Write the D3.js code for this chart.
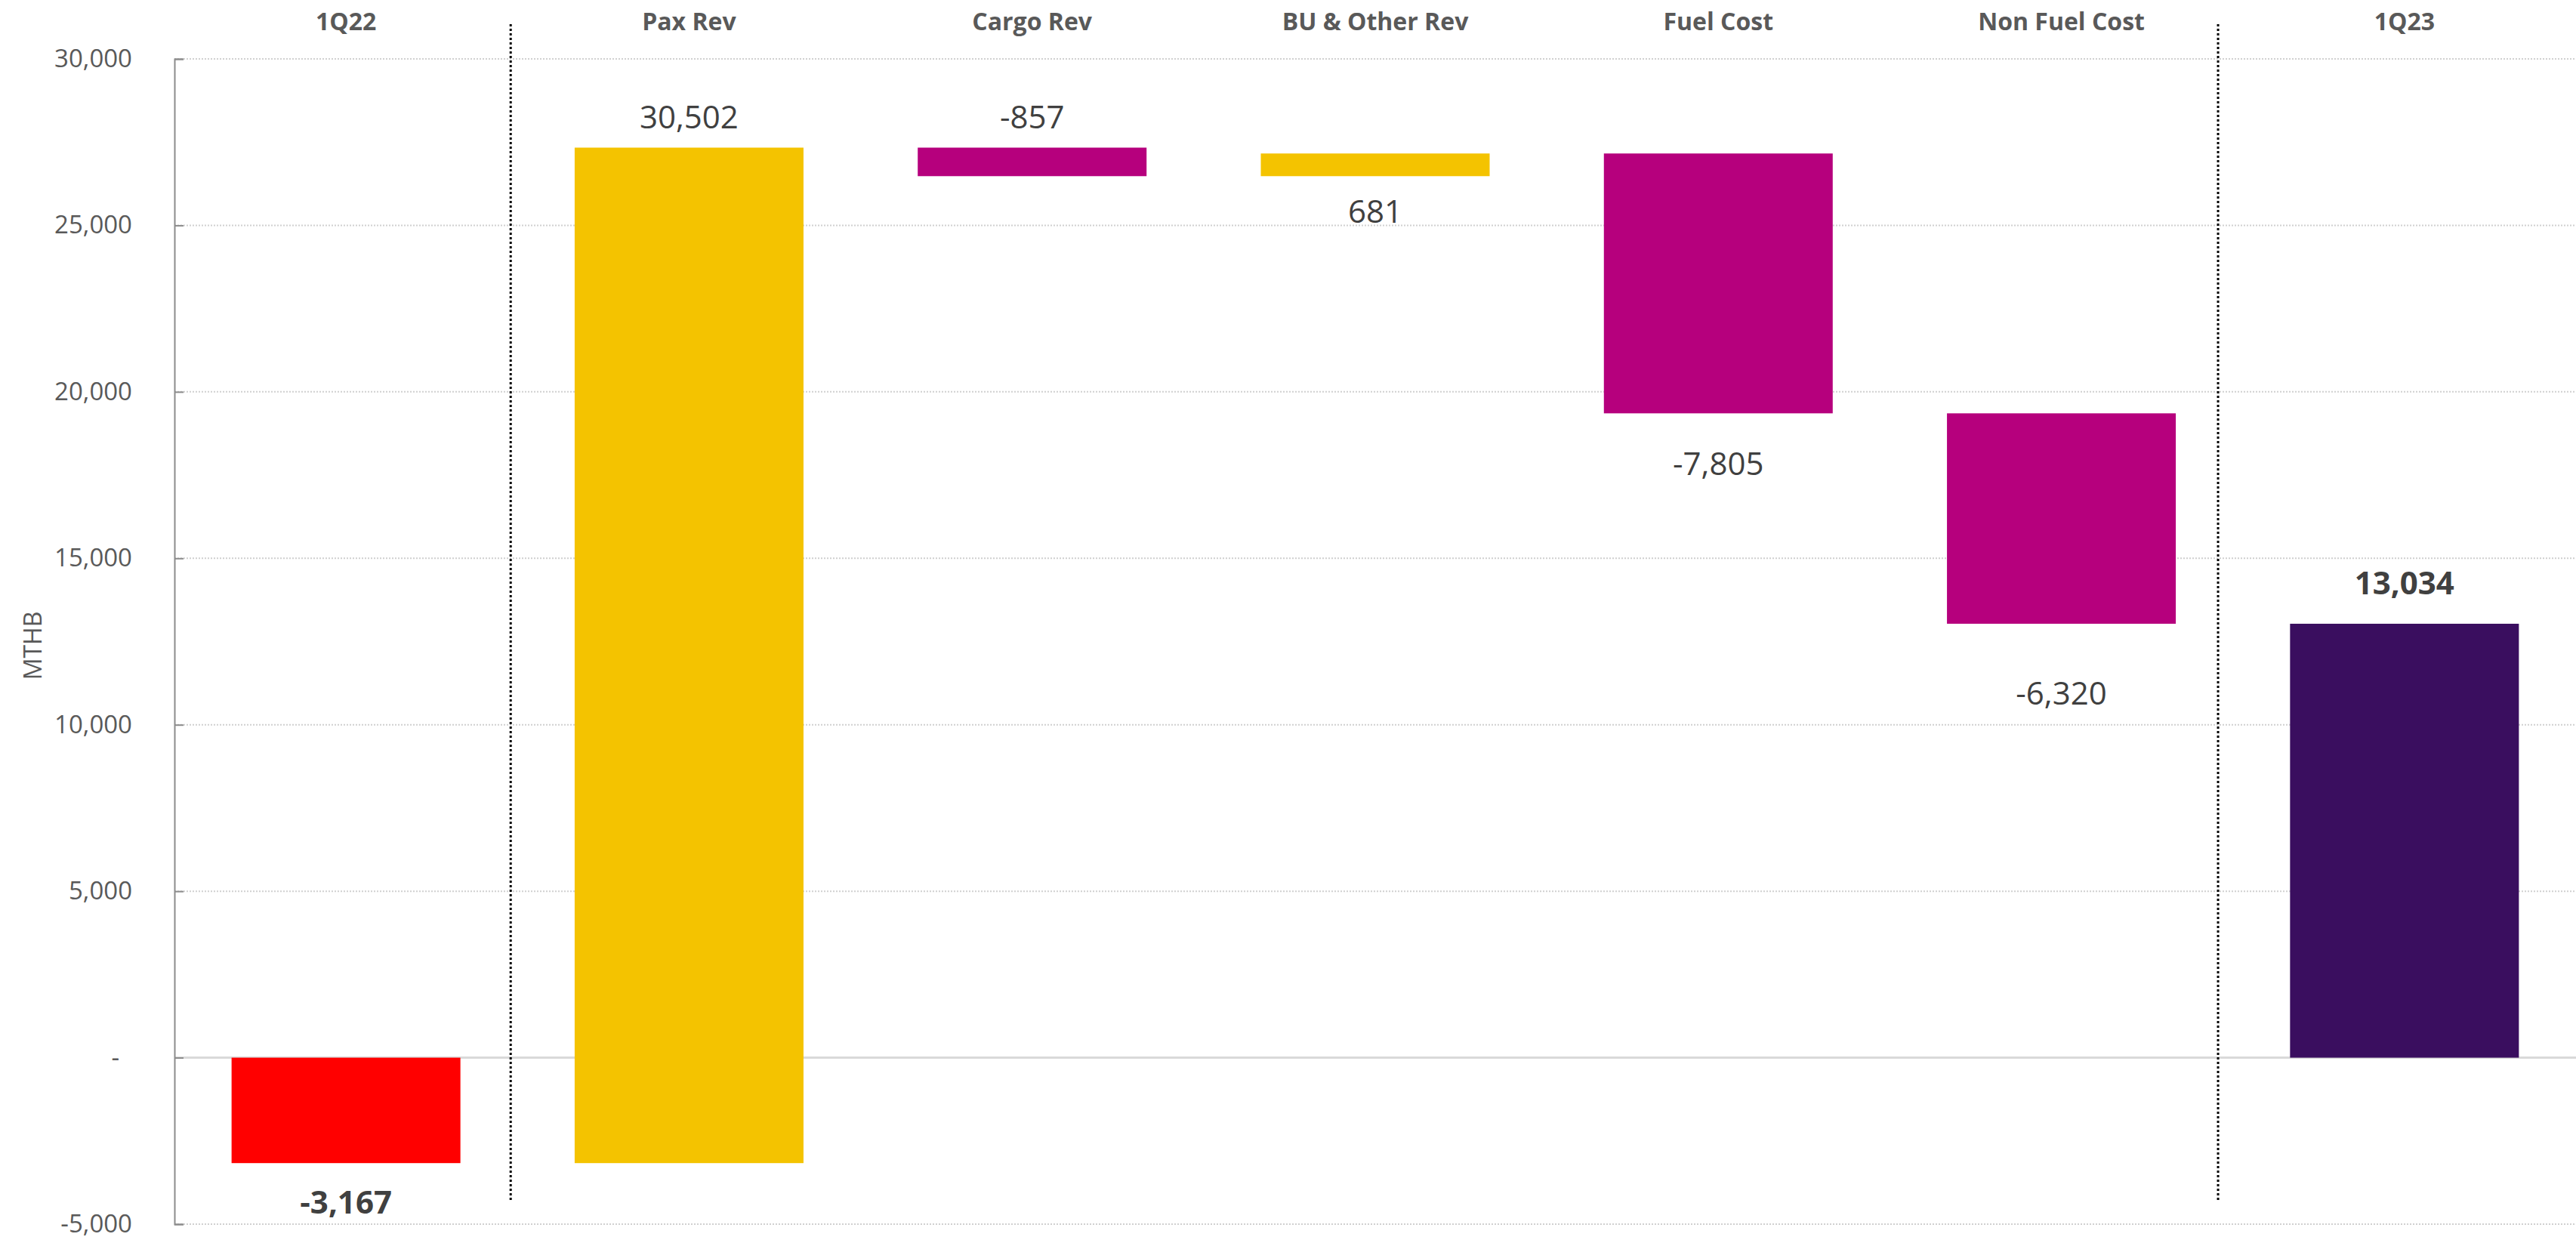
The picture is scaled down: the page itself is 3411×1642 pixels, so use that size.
<!DOCTYPE html>
<html>
<head>
<meta charset="utf-8">
<script src="https://cdn.jsdelivr.net/npm/d3@7"></script>
<style>
  html, body { margin: 0; padding: 0; background: #ffffff; }
  svg { display: block; font-family: "Open Sans", "Noto Sans", sans-serif; }
</style>
</head>
<body>
<svg id="chart" width="3411" height="1642"></svg>
<script>
// Bridge steps from 1Q22 to 1Q23 (MTHB)
const categories = ["1Q22", "Pax Rev", "Cargo Rev", "BU & Other Rev", "Fuel Cost", "Non Fuel Cost", "1Q23"];
const stepValues = [-3167, 30502, -857, 681, -7805, -6320, 13034];
const stepKinds = ["total", "delta", "delta", "delta", "delta", "delta", "total"];
const yTickValues = [-5000, 0, 5000, 10000, 15000, 20000, 25000, 30000];
const yAxisTitle = "MTHB";

// Layout
const W = 3411, H = 1642;
const plot = { left: 231, right: 3411, top: 78, bottom: 1621 };
const colors = {
  totalNeg: "#FF0000",
  totalPos: "#3A0E5F",
  up: "#F4C300",
  down: "#B6007D"
};
// Label side (true = above bar) and distance of the label centre from the bar end, in px
const labelAbove = [false, true, true, false, false, false, true];
const labelGap = [50, 42, 42, 45, 65, 91, 55];

const fmt = d3.formatLocale({ decimal: ".", thousands: ",", grouping: [3], currency: ["", ""], minus: "-" }).format(",");

// Waterfall geometry
let running = 0;
const steps = categories.map((c, i) => {
  const v = stepValues[i];
  let start, end;
  if (stepKinds[i] === "total") { start = 0; end = v; running = v; }
  else { start = running; end = running + v; running = end; }
  return { cat: c, value: v, kind: stepKinds[i], start, end, i };
});

const svg = d3.select("#chart");

const x = d3.scaleBand()
  .domain(categories)
  .range([plot.left, plot.right])
  .paddingInner(0.333)
  .paddingOuter(0.1665);

const y = d3.scaleLinear()
  .domain([-5000, 30000])
  .range([plot.bottom, plot.top]);

// Gridlines
const grid = svg.append("g");
grid.selectAll("line.grid")
  .data(yTickValues.filter(v => v !== 0))
  .join("line")
  .attr("x1", plot.left).attr("x2", plot.right)
  .attr("y1", d => y(d)).attr("y2", d => y(d))
  .attr("stroke", "#D0D0D0")
  .attr("stroke-width", 2)
  .attr("stroke-dasharray", "2,2");

// Zero line
grid.append("line")
  .attr("x1", plot.left).attr("x2", plot.right)
  .attr("y1", y(0)).attr("y2", y(0))
  .attr("stroke", "#D9D9D9")
  .attr("stroke-width", 3);

// Y axis
const yAxis = d3.axisLeft(y)
  .tickValues(yTickValues)
  .tickSize(-12)
  .tickPadding(56)
  .tickFormat(d => d === 0 ? "-" : fmt(d));

const gy = svg.append("g")
  .attr("transform", `translate(${plot.left},0)`)
  .call(yAxis);
gy.select(".domain").attr("stroke", "#8C8C8C").attr("stroke-width", 2);
gy.selectAll(".tick line").attr("stroke", "#8C8C8C").attr("stroke-width", 2);
gy.selectAll(".tick text")
  .attr("fill", "#595959")
  .attr("font-size", 33)
  .attr("font-family", "'Open Sans', sans-serif")
  .attr("dx", d => d === 0 ? -17 : 0);

// Axis title
svg.append("text")
  .attr("transform", `translate(42,855) rotate(-90)`)
  .attr("text-anchor", "middle")
  .attr("dominant-baseline", "central")
  .attr("fill", "#595959")
  .attr("font-size", 32)
  .text(yAxisTitle);

// Section separators (dotted)
const gap = x.step() - x.bandwidth();
const separators = [
  x(categories[0]) + x.bandwidth() + gap * 0.44,
  x(categories[5]) + x.bandwidth() + gap * 0.37
];
svg.append("g").selectAll("line")
  .data(separators)
  .join("line")
  .attr("x1", d => d).attr("x2", d => d)
  .attr("y1", 32).attr("y2", 1590)
  .attr("stroke", "#000000")
  .attr("stroke-width", 3)
  .attr("stroke-dasharray", "3,3");

// Bars
const colorOf = s => s.kind === "total"
  ? (s.value < 0 ? colors.totalNeg : colors.totalPos)
  : (s.value < 0 ? colors.down : colors.up);

svg.append("g").selectAll("rect")
  .data(steps)
  .join("rect")
  .attr("x", d => x(d.cat))
  .attr("width", x.bandwidth())
  .attr("y", d => y(Math.max(d.start, d.end)))
  .attr("height", d => Math.abs(y(d.start) - y(d.end)))
  .attr("fill", d => colorOf(d));

// Category labels along the top
svg.append("g").selectAll("text")
  .data(categories)
  .join("text")
  .attr("x", d => x(d) + x.bandwidth() / 2)
  .attr("y", 40)
  .attr("text-anchor", "middle")
  .attr("fill", "#595959")
  .attr("font-size", 32)
  .attr("font-weight", 700)
  .text(d => d);

// Value labels
svg.append("g").selectAll("text")
  .data(steps)
  .join("text")
  .attr("x", d => x(d.cat) + x.bandwidth() / 2)
  .attr("y", d => {
    const top = y(Math.max(d.start, d.end));
    const bottom = y(Math.min(d.start, d.end));
    return labelAbove[d.i] ? top - labelGap[d.i] : bottom + labelGap[d.i];
  })
  .attr("text-anchor", "middle")
  .attr("dominant-baseline", "central")
  .attr("fill", "#404040")
  .attr("font-size", 42)
  .attr("font-weight", d => d.kind === "total" ? 700 : 400)
  .text(d => fmt(d.value));
</script>
</body>
</html>
